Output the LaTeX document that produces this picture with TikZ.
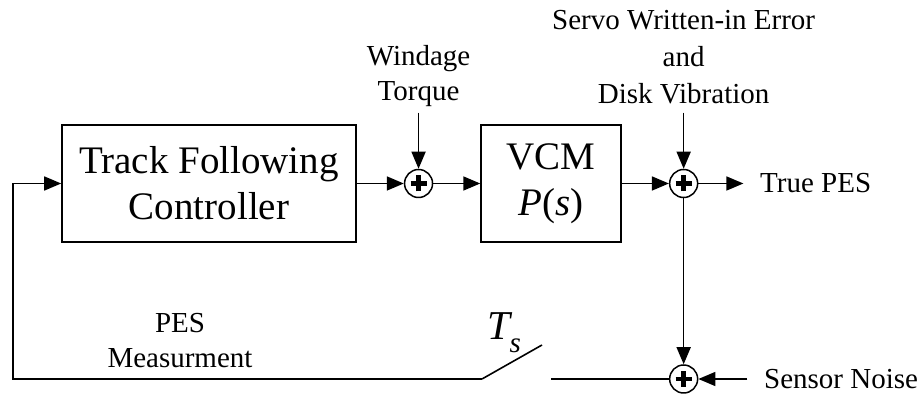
\documentclass[tikz,border=0pt]{standalone}
\usepackage{fontspec}
\setmainfont{Liberation Serif}
\usetikzlibrary{arrows.meta,positioning}
\newcommand{\bigtxt}{\fontsize{39}{46}\selectfont}
\newcommand{\smalltxt}{\fontsize{29}{35}\selectfont}

\begin{document}
\begin{tikzpicture}[
  x=1pt, y=1pt,
  line width=1.6pt,
  block/.style={draw, line width=1.6pt, align=center, minimum height=117pt,
                inner sep=0pt, font=\bigtxt},
  sumnode/.style={circle, draw, line width=1.5pt, minimum size=28pt, inner sep=0pt,
    path picture={
      \draw[line width=4.5pt] ([xshift=-8pt]path picture bounding box.center)
        -- ([xshift=8pt]path picture bounding box.center);
      \draw[line width=4.5pt] ([yshift=-8pt]path picture bounding box.center)
        -- ([yshift=8pt]path picture bounding box.center);}},
  flow/.style={-{Triangle[length=17pt, width=14pt]}, line width=1.6pt},
  lbl/.style={font=\smalltxt, align=center, inner sep=0pt}
]
  \useasboundingbox (0,0) rectangle (922,398);

  % forward path
  \node[block, minimum width=294pt] (ctrl) at (209,214.5) {Track Following\\Controller};
  \node[sumnode, right=47pt of ctrl] (sum1) {};
  \node[block, minimum width=140pt, right=47pt of sum1] (vcm) {VCM\\\textit{P}(\textit{s})};
  \node[sumnode, right=47pt of vcm] (sum2) {};
  \node[sumnode] (sum3) at (sum2 |- 0,19) {};

  % disturbances and outputs
  \node[lbl, above=56pt of sum1, inner ysep=5pt] (windage) {Windage\\Torque};
  \node[lbl, above=56pt of sum2, inner ysep=8pt, font=\fontsize{29}{37}\selectfont] (servo)
    {Servo Written-in Error\\and\\Disk Vibration};
  \node[lbl, right=45pt of sum2, inner xsep=16pt] (truepes) {True PES};
  \node[lbl, right=49pt of sum3, inner xsep=16pt] (noise) {Sensor Noise};

  % sampler
  \coordinate (swA) at (482,19);
  \coordinate (swB) at (542,53);
  \coordinate (swC) at (551,19);
  \coordinate (fbcorner) at (13,19);
  \node[anchor=base west, inner sep=0pt] (ts) at (487,58)
    {\fontsize{41}{41}\selectfont\itshape T\kern-1pt\raisebox{-13pt}{\smalltxt s}};
  \node[lbl] (pesmeas) at (180,57) {PES\\Measurment};

  \draw[flow] (ctrl) -- (sum1);
  \draw[flow] (sum1) -- (vcm);
  \draw[flow] (vcm) -- (sum2);
  \draw[flow] (windage) -- (sum1);
  \draw[flow] (servo) -- (sum2);
  \draw[flow] (sum2) -- (truepes);
  \draw[flow] (sum2) -- (sum3);
  \draw[flow] (noise) -- (sum3);
  \draw (sum3) -- (swC);
  \draw (swB) -- (swA);
  \draw[flow] (swA) -- (fbcorner) |- (ctrl.west);
\end{tikzpicture}
\end{document}
